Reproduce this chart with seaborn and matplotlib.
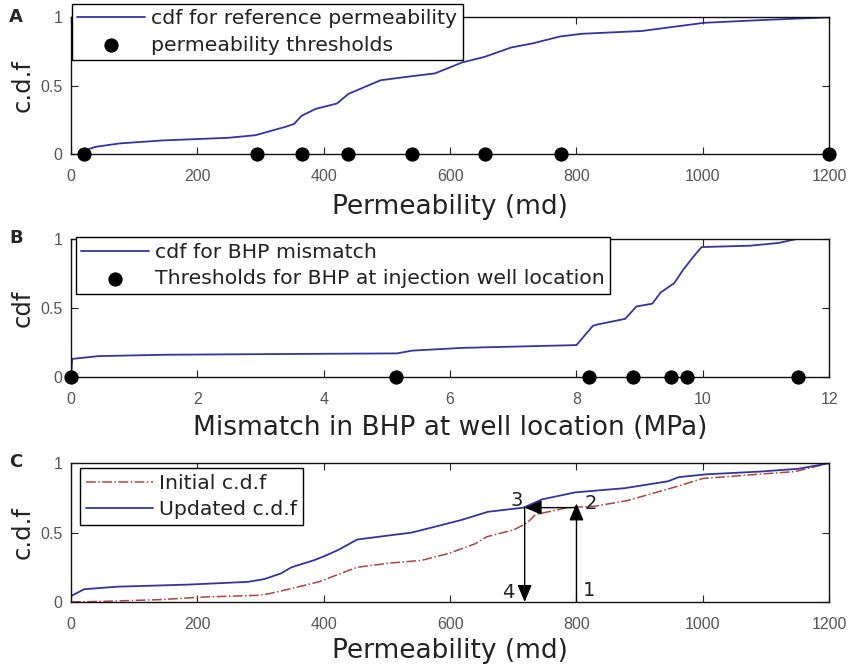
import numpy as np
import pandas as pd
import matplotlib
matplotlib.use("Agg")
import matplotlib.pyplot as plt
import seaborn as sns

# panel A: cdf of reference permeability
perm_ref = [17, 39, 77, 146, 249, 292, 340, 353, 365, 387, 421, 439, 490, 540, 576,
            619, 654, 697, 731, 774, 809, 903, 1002, 1092, 1200]
cdf_ref = [0.02, 0.053, 0.078, 0.10, 0.119, 0.138, 0.20, 0.22, 0.28, 0.33, 0.37, 0.44,
           0.54, 0.57, 0.59, 0.67, 0.71, 0.78, 0.81, 0.86, 0.88, 0.90, 0.96, 0.98, 1.0]
perm_thresholds = [20, 295, 366, 438, 540, 655, 775, 1200]

# panel B: cdf of BHP mismatch
bhp_mis = [0.0, 0.02, 0.43, 1.46, 3.2, 5.16, 5.4, 6.2, 8.0, 8.26, 8.34, 8.77, 8.95,
           9.2, 9.33, 9.55, 9.68, 9.85, 9.98, 10.75, 11.2, 11.5]
cdf_bhp = [0.0, 0.13, 0.15, 0.16, 0.165, 0.17, 0.19, 0.21, 0.23, 0.37, 0.38, 0.42, 0.51,
           0.53, 0.61, 0.68, 0.77, 0.87, 0.94, 0.95, 0.97, 1.0]
bhp_thresholds = [0.0, 5.15, 8.2, 8.9, 9.5, 9.75, 11.5]

# panel C: initial and updated cdf
perm_upd = [0, 0, 21, 73, 185, 280, 306, 332, 349, 384, 401, 423, 453, 487, 539, 574,
            617, 660, 716, 746, 798, 876, 945, 962, 1005, 1091, 1151, 1200]
cdf_upd = [0.0, 0.085, 0.092, 0.11, 0.125, 0.145, 0.165, 0.205, 0.25, 0.30, 0.33, 0.375,
           0.45, 0.47, 0.50, 0.54, 0.59, 0.65, 0.68, 0.74, 0.79, 0.82, 0.87, 0.90, 0.92,
           0.94, 0.96, 1.0]
perm_init = [0, 56, 142, 211, 297, 314, 349, 392, 418, 453, 504, 555, 598, 640, 658,
             701, 722, 735, 786, 829, 880, 957, 1000, 1086, 1146, 1200]
cdf_init = [0.0, 0.005, 0.017, 0.036, 0.048, 0.06, 0.097, 0.145, 0.19, 0.25, 0.28, 0.30,
            0.35, 0.42, 0.47, 0.52, 0.57, 0.63, 0.68, 0.69, 0.73, 0.83, 0.89, 0.92, 0.94, 1.0]

# mapping steps 1 -> 2 -> 3 -> 4
k_old, k_new = 800, 718
p_tip, p_level = 0.71, 0.68

sns.set_style("ticks")
plt.rcParams['font.family'] = ['DejaVu Sans']

blue = '#34349e'
brown = '#a8463f'
tick_col = '#555555'
txt_col = '#222222'

fig = plt.figure(figsize=(8.51, 6.67), dpi=100)
ax_a = fig.add_axes([0.0834, 0.769, 0.891, 0.205])
ax_b = fig.add_axes([0.0834, 0.435, 0.891, 0.207])
ax_c = fig.add_axes([0.0834, 0.0975, 0.891, 0.208])


def style_axes(ax, xmax, xstep):
    ax.set_xlim(0, xmax)
    ax.set_ylim(0, 1)
    ax.set_xticks(np.arange(0, xmax + xstep / 2, xstep))
    ax.set_yticks([0, 0.5, 1])
    ax.set_yticklabels(['0', '0.5', '1'])
    ax.tick_params(direction='in', top=True, right=True, length=5, width=0.8,
                   labelsize=11.5, labelcolor=tick_col, color='#222222', pad=6)
    ax.tick_params(axis='x', pad=11)
    for lab in ax.get_xticklabels() + ax.get_yticklabels():
        lab.set_fontfamily('Liberation Sans')
    for s in ax.spines.values():
        s.set_visible(True)
        s.set_linewidth(1.0)
        s.set_color('#111111')


def style_legend(ax, anchor, fontsize=14.7):
    leg = ax.legend(loc='upper left', bbox_to_anchor=anchor, borderaxespad=0,
                    fancybox=False, framealpha=1, edgecolor='black',
                    fontsize=fontsize, handlelength=3.3, handletextpad=0.3,
                    borderpad=0.28, labelspacing=0.35)
    leg.get_frame().set_linewidth(1.0)
    for t in leg.get_texts():
        t.set_color(txt_col)
    return leg


# A
df_a = pd.DataFrame({'x': perm_ref, 'y': cdf_ref})
sns.lineplot(data=df_a, x='x', y='y', ax=ax_a, color=blue, lw=1.3,
             label='cdf for reference permeability')
df_at = pd.DataFrame({'x': perm_thresholds, 'y': 0.0})
sns.scatterplot(data=df_at, x='x', y='y', ax=ax_a, color='black', s=90,
                edgecolor='black', zorder=5, clip_on=False,
                label='permeability thresholds')
style_axes(ax_a, 1200, 200)
ax_a.set_xlabel('Permeability (md)', fontsize=19, color=txt_col, labelpad=7)
ax_a.set_ylabel('c.d.f', fontsize=17.5, color=txt_col, labelpad=4)
style_legend(ax_a, (0.001, 1.1))

# B
df_b = pd.DataFrame({'x': bhp_mis, 'y': cdf_bhp})
sns.lineplot(data=df_b, x='x', y='y', ax=ax_b, color=blue, lw=1.3,
             label='cdf for BHP mismatch')
df_bt = pd.DataFrame({'x': bhp_thresholds, 'y': 0.0})
sns.scatterplot(data=df_bt, x='x', y='y', ax=ax_b, color='black', s=90,
                edgecolor='black', zorder=5, clip_on=False,
                label='Thresholds for BHP at injection well location')
style_axes(ax_b, 12, 2)
ax_b.set_xlabel('Mismatch in BHP at well location (MPa)', fontsize=19,
                color=txt_col, labelpad=6)
ax_b.set_ylabel('cdf', fontsize=17.5, color=txt_col, labelpad=4)
style_legend(ax_b, (0.006, 1.01))

# C
df_ci = pd.DataFrame({'x': perm_init, 'y': cdf_init})
df_cu = pd.DataFrame({'x': perm_upd, 'y': cdf_upd})
sns.lineplot(data=df_ci, x='x', y='y', ax=ax_c, color=brown, lw=1.1,
             linestyle='-.', label='Initial c.d.f', sort=False)
sns.lineplot(data=df_cu, x='x', y='y', ax=ax_c, color=blue, lw=1.3,
             label='Updated c.d.f', sort=False)
arrow_kw = dict(arrowstyle='-|>,head_length=0.95,head_width=0.4', color='black',
                lw=1.0, mutation_scale=11, shrinkA=0, shrinkB=0)
ax_c.annotate('', xy=(k_old, p_tip), xytext=(k_old, 0), arrowprops=arrow_kw)
ax_c.annotate('', xy=(k_new, p_level), xytext=(k_old, p_level), arrowprops=arrow_kw)
ax_c.annotate('', xy=(k_new, 0), xytext=(k_new, p_level), arrowprops=arrow_kw)
ax_c.text(k_old + 10, 0.04, '1', fontsize=14, color=txt_col)
ax_c.text(k_old + 13, 0.67, '2', fontsize=14, color=txt_col)
ax_c.text(k_new - 22, 0.69, '3', fontsize=14, color=txt_col)
ax_c.text(k_new - 36, 0.03, '4', fontsize=14, color=txt_col)
style_axes(ax_c, 1200, 200)
ax_c.set_xlabel('Permeability (md)', fontsize=19, color=txt_col, labelpad=4)
ax_c.set_ylabel('c.d.f', fontsize=17.5, color=txt_col, labelpad=4)
style_legend(ax_c, (0.012, 0.965))

# panel letters
for lab, yy in zip(['A', 'B', 'C'], [0.975, 0.643, 0.308]):
    fig.text(0.011, yy, lab, fontsize=13, fontweight='bold', va='center')

fig.savefig('out.png', dpi=100)
